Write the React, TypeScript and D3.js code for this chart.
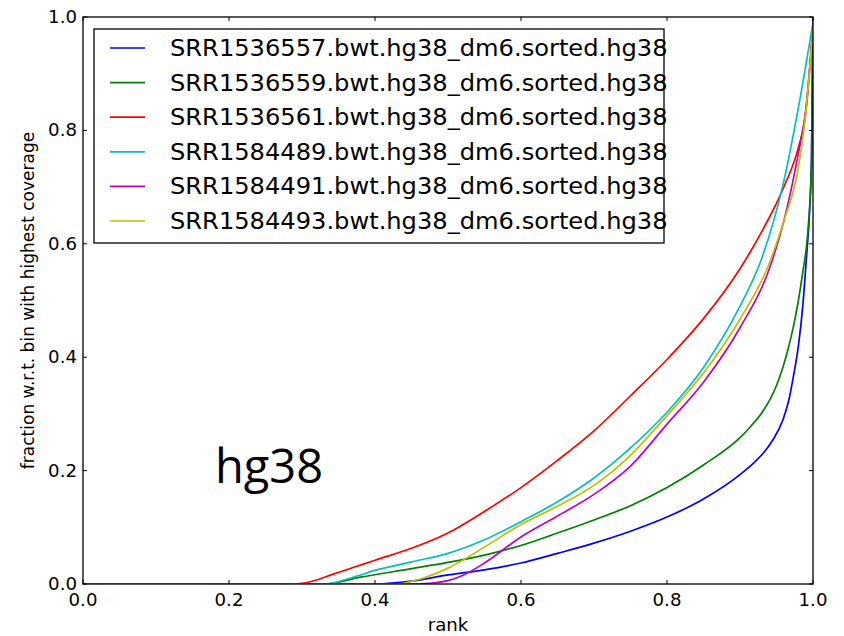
import React from "react";
import * as d3 from "d3";

const seriesNames = [
  "SRR1536557.bwt.hg38_dm6.sorted.hg38",
  "SRR1536559.bwt.hg38_dm6.sorted.hg38",
  "SRR1536561.bwt.hg38_dm6.sorted.hg38",
  "SRR1584489.bwt.hg38_dm6.sorted.hg38",
  "SRR1584491.bwt.hg38_dm6.sorted.hg38",
  "SRR1584493.bwt.hg38_dm6.sorted.hg38",
];
const seriesColors = ["#0000ff", "#008000", "#ff0000", "#00bfbf", "#bf00bf", "#bfbf00"];

// [rank, fraction]
const blue: [number, number][] = [
  [0, 0], [0.4, 0], [0.45, 0.005], [0.5, 0.016], [0.55, 0.025], [0.6, 0.037], [0.65, 0.054],
  [0.7, 0.072], [0.75, 0.093], [0.8, 0.118], [0.85, 0.15], [0.9, 0.193], [0.92, 0.215],
  [0.932, 0.231], [0.945, 0.254], [0.959, 0.29], [0.967, 0.325], [0.973, 0.365], [0.98, 0.42],
  [0.986, 0.49], [0.991, 0.575], [0.995, 0.65], [0.998, 0.75], [1.0, 1.0],
];
const green: [number, number][] = [
  [0, 0], [0.33, 0], [0.38, 0.012], [0.45, 0.027], [0.5, 0.038], [0.55, 0.051], [0.6, 0.068],
  [0.65, 0.09], [0.7, 0.113], [0.75, 0.138], [0.8, 0.17], [0.85, 0.21], [0.9, 0.258],
  [0.914, 0.277], [0.93, 0.302], [0.941, 0.325], [0.95, 0.35], [0.959, 0.383], [0.966, 0.415],
  [0.973, 0.453], [0.98, 0.5], [0.986, 0.55], [0.992, 0.607], [0.996, 0.68], [0.998, 0.75],
  [1.0, 1.0],
];
const red: [number, number][] = [
  [0, 0], [0.29, 0], [0.3, 0.001], [0.32, 0.007], [0.34, 0.016], [0.37, 0.029], [0.4, 0.042],
  [0.45, 0.063], [0.5, 0.09], [0.55, 0.128], [0.6, 0.17], [0.65, 0.218], [0.7, 0.27],
  [0.75, 0.332], [0.8, 0.396], [0.85, 0.468], [0.9, 0.556], [0.93, 0.622], [0.96, 0.7],
  [0.98, 0.77], [0.99, 0.83], [1.0, 0.99],
];
const cyan: [number, number][] = [
  [0, 0], [0.33, 0], [0.37, 0.012], [0.4, 0.024], [0.45, 0.039], [0.5, 0.054], [0.55, 0.078],
  [0.6, 0.11], [0.65, 0.145], [0.7, 0.187], [0.75, 0.24], [0.8, 0.303], [0.85, 0.382],
  [0.9, 0.49], [0.93, 0.575], [0.96, 0.71], [0.98, 0.84], [1.0, 0.99],
];
const magenta: [number, number][] = [
  [0, 0], [0.46, 0], [0.5, 0.006], [0.52, 0.015], [0.55, 0.037], [0.6, 0.083], [0.65, 0.12],
  [0.7, 0.158], [0.75, 0.208], [0.8, 0.282], [0.85, 0.356], [0.9, 0.452], [0.94, 0.555],
  [0.96, 0.64], [0.98, 0.76], [0.99, 0.835], [1.0, 0.98],
];
const yellow: [number, number][] = [
  [0, 0], [0.43, 0], [0.46, 0.008], [0.5, 0.028], [0.55, 0.065], [0.6, 0.105], [0.65, 0.137],
  [0.7, 0.174], [0.75, 0.227], [0.8, 0.297], [0.85, 0.372], [0.9, 0.467], [0.94, 0.565],
  [0.96, 0.64], [0.98, 0.735], [0.99, 0.83], [1.0, 0.98],
];
const seriesData = [blue, green, red, cyan, magenta, yellow];

const xTicks = [0, 0.2, 0.4, 0.6, 0.8, 1.0];
const yTicks = [0, 0.2, 0.4, 0.6, 0.8, 1.0];

export default function App() {
  const W = 844, H = 636;
  const L = 83, R = 813, T = 17, B = 584;
  const x = d3.scaleLinear().domain([0, 1]).range([L, R]);
  const y = d3.scaleLinear().domain([0, 1]).range([B, T]);
  const line = d3
    .line<[number, number]>()
    .x((d) => x(d[0]))
    .y((d) => y(d[1]))
    .curve(d3.curveMonotoneX);
  const font = "DejaVu Sans, sans-serif";
  const tickLen = 4;
  const sx = 1.07;
  return (
    <svg
      width={W}
      height={H}
      style={{ position: "absolute", left: 0, top: 0, background: "#fff" }}
    >
      <defs>
        <clipPath id="plotclip">
          <rect x={L} y={T - 2} width={R - L} height={B - T + 2} />
        </clipPath>
      </defs>
      <rect x={0} y={0} width={W} height={H} fill="#fff" />
      <g clipPath="url(#plotclip)">
        {seriesData.map((d, i) => (
          <path key={i} d={line(d) || ""} fill="none" stroke={seriesColors[i]} strokeWidth={1.7} />
        ))}
      </g>
      {xTicks.map((t, i) => (
        <g key={"xt" + i}>
          <line x1={x(t)} x2={x(t)} y1={B} y2={B - tickLen} stroke="#000" strokeWidth={1} />
          <line x1={x(t)} x2={x(t)} y1={T} y2={T + tickLen} stroke="#000" strokeWidth={1} />
          <text
            transform={`translate(${x(t)},606) scale(${sx},1)`}
            textAnchor="middle"
            fontFamily={font}
            fontSize={17}
            fill="#000"
          >
            {t.toFixed(1)}
          </text>
        </g>
      ))}
      {yTicks.map((t, i) => (
        <g key={"yt" + i}>
          <line x1={L} x2={L + tickLen} y1={y(t)} y2={y(t)} stroke="#000" strokeWidth={1} />
          <line x1={R} x2={R - tickLen} y1={y(t)} y2={y(t)} stroke="#000" strokeWidth={1} />
          <text
            transform={`translate(77,${y(t) + 6}) scale(${sx},1)`}
            textAnchor="end"
            fontFamily={font}
            fontSize={17}
            fill="#000"
          >
            {t.toFixed(1)}
          </text>
        </g>
      ))}
      <rect x={L} y={T} width={R - L} height={B - T} fill="none" stroke="#000" strokeWidth={1.3} />
      <text
        transform={`translate(${(L + R) / 2},631) scale(${sx},1)`}
        textAnchor="middle"
        fontFamily={font}
        fontSize={17}
        fill="#000"
      >
        rank
      </text>
      <text
        transform={`translate(34,${(T + B) / 2}) rotate(-90)`}
        textAnchor="middle"
        fontFamily={font}
        fontSize={17}
        fill="#000"
      >
        fraction w.r.t. bin with highest coverage
      </text>
      <rect x={94} y={29} width={570} height={214} fill="#fff" stroke="#000" strokeWidth={1.3} />
      {seriesNames.map((n, i) => {
        const ly = 48 + i * 34.6;
        return (
          <g key={"lg" + i}>
            <line x1={110} x2={145} y1={ly} y2={ly} stroke={seriesColors[i]} strokeWidth={1.7} />
            <text
              transform={`translate(170,${ly + 8}) scale(1.05,1)`}
              fontFamily={font}
              fontSize={23}
              fill="#000"
            >
              {n}
            </text>
          </g>
        );
      })}
      <text x={215} y={483} fontFamily="Open Sans, Lato, sans-serif" fontSize={47} fill="#000">
        hg38
      </text>
    </svg>
  );
}
